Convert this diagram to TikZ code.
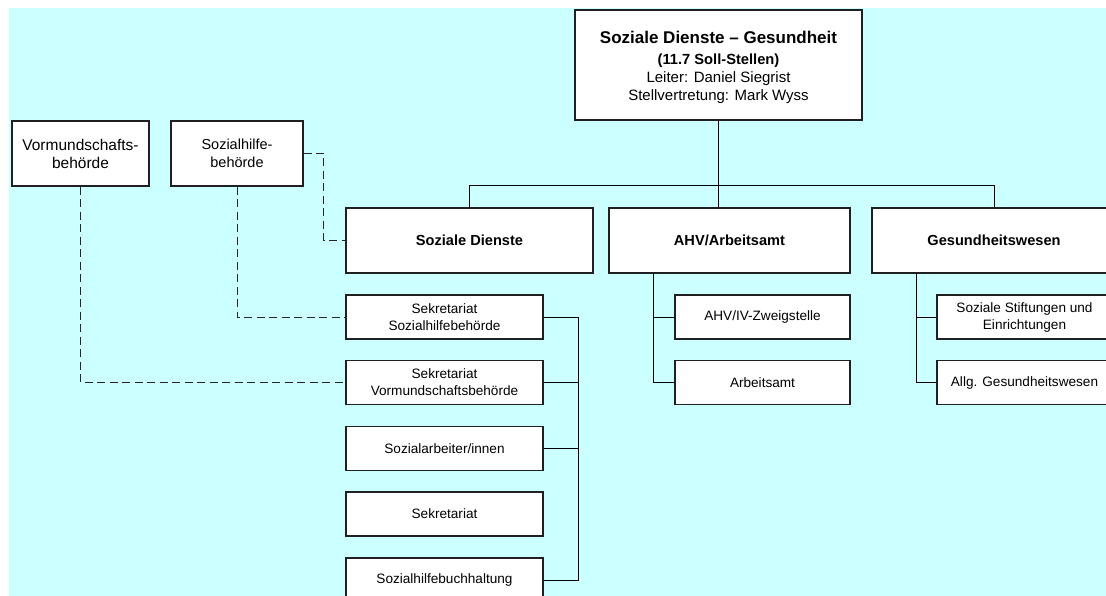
\documentclass[tikz,border=0pt]{standalone}
\usepackage{fontspec}
\setmainfont{Liberation Sans}
\definecolor{bgcyan}{HTML}{CCFFFF}
\definecolor{edge}{HTML}{202020}
\tikzset{
  box/.style={draw=edge, line width=1.1pt, fill=white, inner sep=0pt, align=center, anchor=center},
  childtxt/.style={font=\fontsize{13.6}{17}\selectfont},
  headtxt/.style={font=\fontsize{14.6}{17}\selectfont\bfseries},
  conn/.style={draw=black, line width=1pt},
  dconn/.style={draw=black!85, line width=1pt, dash pattern=on 8pt off 4.5pt},
}
\begin{document}
\begin{tikzpicture}[x=1pt,y=-1pt]
\useasboundingbox (0,0) rectangle (1106,596);
\clip (0,0) rectangle (1106,596);
\fill[bgcyan] (9,8) rectangle (1106,596);

% top box
\node[box, minimum width=287pt, minimum height=110pt] (top) at (718.5,65) {};
\node[align=center, inner sep=0pt, font=\fontsize{15}{18}\selectfont] (toptxt) at (718.5,67.5)
  {{\fontsize{17}{20}\selectfont\bfseries Soziale Dienste – Gesundheit}\\[3pt]
   {\fontsize{14.7}{17}\selectfont\bfseries (11.7 Soll-Stellen)}\\
   Leiter: Daniel Siegrist\\
   Stellvertretung: Mark Wyss};

% left authority boxes
\node[box, font=\fontsize{15.5}{18}\selectfont, minimum width=137pt, minimum height=65pt] (vb) at (80.5,153.5) {Vormundschafts-\\behörde};
\node[box, font=\fontsize{14.5}{18}\selectfont, minimum width=132pt, minimum height=65pt] (sh) at (237,153.5) {Sozialhilfe-\\behörde};

% level 2
\node[box, headtxt, minimum width=247pt, minimum height=65pt] (sd) at (469.5,240.5) {Soziale Dienste};
\node[box, headtxt, minimum width=241pt, minimum height=65pt] (ahv) at (729.5,240.5) {AHV/Arbeitsamt};
\node[box, headtxt, minimum width=244pt, minimum height=65pt] (gw) at (994,240.5) {Gesundheitswesen};

% Soziale Dienste children
\node[box, childtxt, minimum width=197pt, minimum height=44pt] (s1) at (444.5,317) {Sekretariat\\Sozialhilfebehörde};
\node[box, childtxt, minimum width=197pt, minimum height=44pt] (s2) at (444.5,382.5) {Sekretariat\\Vormundschaftsbehörde};
\node[box, childtxt, minimum width=197pt, minimum height=44pt] (s3) at (444.5,448.5) {Sozialarbeiter/innen};
\node[box, childtxt, minimum width=197pt, minimum height=44pt] (s4) at (444.5,514) {Sekretariat};
\node[box, childtxt, minimum width=197pt, minimum height=44pt] (s5) at (444.5,580) {Sozialhilfebuchhaltung};

% AHV children
\node[box, childtxt, minimum width=175pt, minimum height=44pt] (a1) at (762.5,317) {AHV/IV-Zweigstelle};
\node[box, childtxt, minimum width=175pt, minimum height=44pt] (a2) at (762.5,382.5) {Arbeitsamt};

% Gesundheitswesen children
\node[box, childtxt, minimum width=175pt, minimum height=44pt] (g1) at (1024.5,317) {Soziale Stiftungen und\\Einrichtungen};
\node[box, childtxt, minimum width=175pt, minimum height=44pt] (g2) at (1024.5,382.5) {Allg. Gesundheitswesen};

% helper coordinates
\coordinate (bar) at (0,186);
\coordinate (sbus) at (578,0);
\coordinate (abus) at (653,0);
\coordinate (gbus) at (916,0);

% top tree
\draw[conn] (top.south) -- (top.south |- ahv.north);
\draw[conn] (sd.north) -- (sd.north |- bar) -- (gw.north |- bar) -- (gw.north);

% AHV tree
\draw[conn] (ahv.south -| abus) |- (a2.west);
\draw[conn] (a1.west) -- (a1.west -| abus);

% Gesundheit tree
\draw[conn] (gw.south -| gbus) |- (g2.west);
\draw[conn] (g1.west) -- (g1.west -| gbus);

% Soziale Dienste bus
\draw[conn] (s1.east) -- (s1.east -| sbus) -- (s5.east -| sbus) -- (s5.east);
\draw[conn] (s2.east) -- (s2.east -| sbus);
\draw[conn] (s3.east) -- (s3.east -| sbus);

% dashed links
\draw[dconn] (sh.east) -- ++(20,0) |- (sd.west);
\draw[dconn] (sh.south) |- (s1.west);
\draw[dconn] (vb.south) |- (s2.west);
\end{tikzpicture}
\end{document}
